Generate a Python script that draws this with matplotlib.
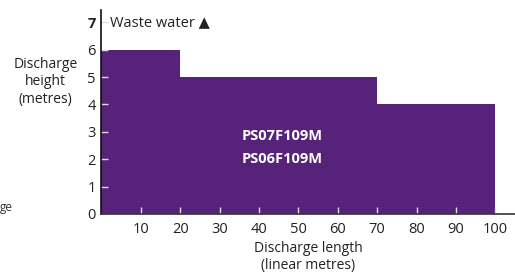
import matplotlib.pyplot as plt

# step profile: discharge height available up to a given length
seg_start = [0, 20, 70]
seg_width = [20, 50, 30]
seg_height = [6, 5, 4]

x_ticks = [10, 20, 30, 40, 50, 60, 70, 80, 90, 100]
y_ticks = [0, 1, 2, 3, 4, 5, 6, 7]
models = ["PS07F109M", "PS06F109M"]

purple = "#57227a"
plt.rcParams['font.family'] = ['Open Sans', 'DejaVu Sans']

fig = plt.figure(figsize=(5.15, 2.76), dpi=100)
ax = fig.add_axes((0.197, 0.225, 0.803, 0.739))

ax.bar(seg_start, seg_height, width=seg_width, align='edge', color=purple, linewidth=0, zorder=1)

ax.set_xlim(0, 105)
ax.set_ylim(0, 7.45)
ax.spines[['top', 'right']].set_visible(False)
ax.spines['left'].set_color('#111111')
ax.spines['bottom'].set_color('#333333')
ax.spines['left'].set_linewidth(1.2)
ax.spines['bottom'].set_linewidth(1.2)

ax.set_xticks(x_ticks)
ax.set_yticks(y_ticks)
ax.tick_params(axis='both', direction='in', colors='#dddddd', labelcolor='#222222',
               labelsize=10.5, length=5, width=1)
ax.tick_params(axis='x', pad=6)
ax.tick_params(axis='y', pad=4)
for lbl in ax.get_yticklabels():
    if lbl.get_text() == '7':
        lbl.set_fontweight('bold')
ax.yaxis.get_major_ticks()[-1].tick1line.set_color('#222222')

ax.set_xlabel("Discharge length\n(linear metres)", fontsize=10, color='#222222', linespacing=1.15, labelpad=3)
fig.text(0.088, 0.703, "Discharge\nheight\n(metres)", ha='center', va='center', fontsize=10,
         color='#222222', linespacing=1.25)
fig.text(0.0, 0.25, "ge", ha='left', va='center', fontsize=8.5, color='#333333')

ax.text(2.2, 7, "Waste water \u25b2", ha='left', va='center', fontsize=10.5, color='#222222')
ax.text(46, 2.86, models[0], ha='center', va='center', fontsize=10.5, color='white', fontweight='bold')
ax.text(46, 2.0, models[1], ha='center', va='center', fontsize=10.5, color='white', fontweight='bold')

fig.savefig("out.png", dpi=100)
